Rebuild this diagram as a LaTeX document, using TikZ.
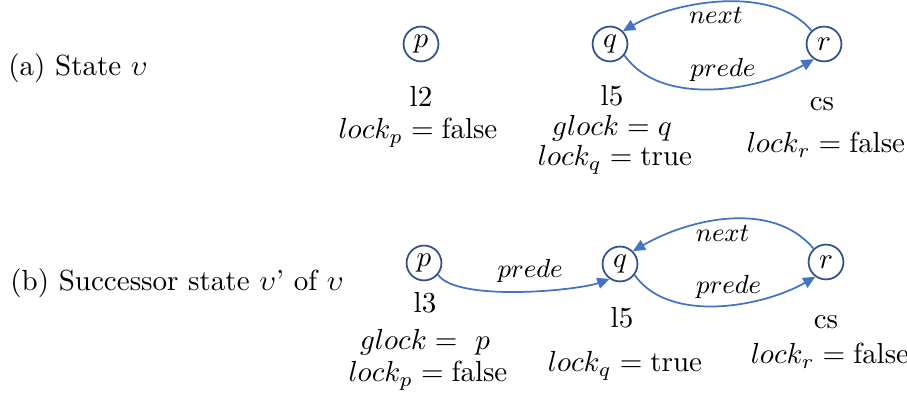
\documentclass[tikz,border=0pt]{standalone}
\usetikzlibrary{positioning, arrows.meta}

\definecolor{stateblue}{RGB}{47,82,143}
\definecolor{edgeblue}{RGB}{68,114,196}

\begin{document}
\begin{tikzpicture}[
  x=0.0121cm, y=-0.0121cm,
  state/.style={draw=stateblue, circle, line width=0.6pt, minimum size=12pt,
                inner sep=0pt, font=\normalsize},
  info/.style={inner sep=1pt, align=center},
  edge/.style={-{Triangle[length=4.2pt, width=3.8pt]}, draw=edgeblue,
               line width=0.6pt},
  elabel/.style={font=\small, inner sep=1pt},
]
\useasboundingbox (0,0) rectangle (907,401);

% (a) state v
\node[info] (capa) at (78,68) {(a) State $\upsilon$};

\node[state] (pa) at (421,44) {$p$};
\node[state] (qa) at (610,44) {$q$};
\node[state] (ra) at (824,44) {$r$};

\node[info] (pa1) at (421,96) {l2};
\node[info] (pa2) at (418,133) {$lock_p = \mathrm{false}$};
\node[info] (qa1) at (612,96) {l5};
\node[info] (qa2) at (612,128) {$glock = q$};
\node[info] (qa3) at (615,160) {$lock_q = \mathrm{true}$};
\node[info] (ra1) at (822,104) {cs};
\node[info] (ra2) at (826,145) {$lock_r = \mathrm{false}$};

\draw[edge] (ra.133) to[out=130, in=30, looseness=0.82]
  node[pos=0.53, below=0.5pt, elabel] {$next$} (qa.45);
\draw[edge] (qa.-38) to[out=-55, in=-150, looseness=0.86]
  node[pos=0.55, above=1pt, elabel] {$prede$} (ra.-124);

% (b) successor state v'
\node[info] (capb) at (177,283) {(b) Successor state $\upsilon$' of $\upsilon$};

\node[state] (pb) at (424,263) {$p$};
\node[state] (qb) at (620,264) {$q$};
\node[state] (rb) at (826,262) {$r$};

\node[info] (pb1) at (425,303) {l3};
\node[info] (pb2) at (425,342) {$glock =\ p$};
\node[info] (pb3) at (428,376) {$lock_p = \mathrm{false}$};
\node[info] (qb1) at (622,318) {l5};
\node[info] (qb2) at (625,366) {$lock_q = \mathrm{true}$};
\node[info] (rb1) at (826,322) {cs};
\node[info] (rb2) at (830,356) {$lock_r = \mathrm{false}$};

\draw[edge] (pb.-40) to[out=-55, in=-160, looseness=0.5]
  node[pos=0.55, above=1.5pt, elabel] {$prede$} (qb.-125);
\draw[edge] (rb.133) to[out=130, in=30, looseness=0.91]
  node[pos=0.53, below=0.5pt, elabel] {$next$} (qb.45);
\draw[edge] (qb.-37) to[out=-55, in=-150, looseness=0.85]
  node[pos=0.55, above=1pt, elabel] {$prede$} (rb.-126);

\end{tikzpicture}
\end{document}
